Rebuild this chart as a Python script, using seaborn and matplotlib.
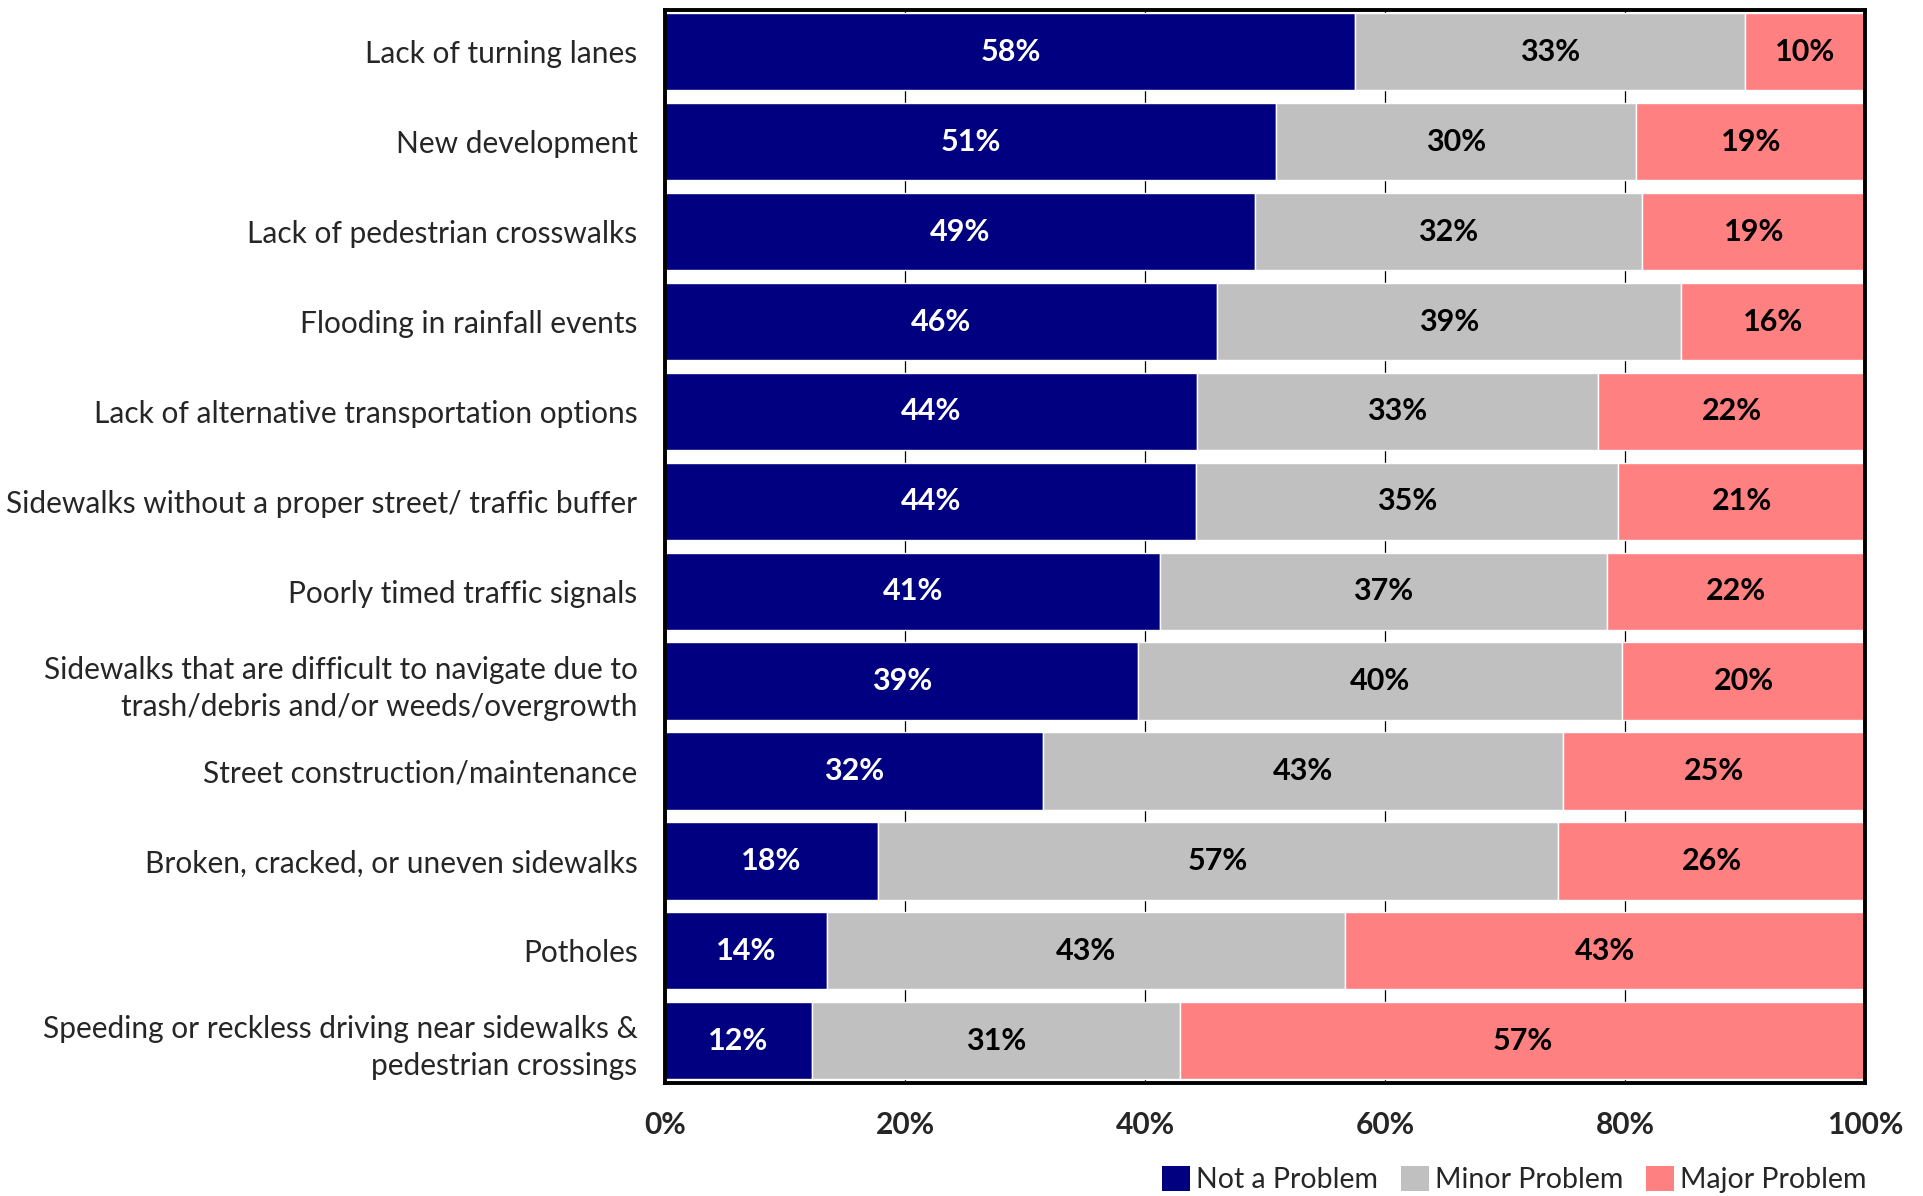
import matplotlib

matplotlib.use("Agg")
import matplotlib.pyplot as plt
from matplotlib.patches import Patch
import numpy as np
import seaborn as sns


CATEGORIES = [
    "Lack of turning lanes",
    "New development",
    "Lack of pedestrian crosswalks",
    "Flooding in rainfall events",
    "Lack of alternative transportation options",
    "Sidewalks without a proper street/ traffic buffer",
    "Poorly timed traffic signals",
    "Sidewalks that are difficult to navigate due to\ntrash/debris and/or weeds/overgrowth",
    "Street construction/maintenance",
    "Broken, cracked, or uneven sidewalks",
    "Potholes",
    "Speeding or reckless driving near sidewalks &\npedestrian crossings",
]
SERIES = ["Not a Problem", "Minor Problem", "Major Problem"]

# bar lengths (percent)
not_problem = [57.5, 50.9, 49.1, 46.0, 44.3, 44.2, 41.2, 39.4, 31.5, 17.7, 13.5, 12.2]
minor_problem = [32.5, 30.0, 32.3, 38.6, 33.4, 35.2, 37.3, 40.3, 43.3, 56.7, 43.1, 30.7]
major_problem = [10.0, 19.1, 18.6, 15.4, 22.3, 20.6, 21.5, 20.3, 25.2, 25.6, 43.4, 57.1]

# printed labels
not_labels = [58, 51, 49, 46, 44, 44, 41, 39, 32, 18, 14, 12]
minor_labels = [33, 30, 32, 39, 33, 35, 37, 40, 43, 57, 43, 31]
major_labels = [10, 19, 19, 16, 22, 21, 22, 20, 25, 26, 43, 57]

X_TICKS = [0, 20, 40, 60, 80, 100]
COLORS = ["#000080", "#C0C0C0", "#FF8080"]
TEXT_COLORS = ["white", "black", "black"]


def main() -> None:
    sns.set_theme(style="white")
    plt.rcParams["font.family"] = ["Lato", "DejaVu Sans"]

    fig = plt.figure(figsize=(19.23, 11.96), dpi=100)
    ax = fig.add_axes([0.346, 0.0945, 0.624, 0.8975])

    series = [not_problem, minor_problem, major_problem]
    labels = [not_labels, minor_labels, major_labels]
    lefts = np.zeros(len(CATEGORIES))
    for values, color in zip(series, COLORS):
        sns.barplot(x=values, y=CATEGORIES, orient="h", color=color,
                    saturation=1, width=0.86, ax=ax)
        container = ax.containers[-1]
        for patch, left in zip(container, lefts):
            patch.set_x(left)
        lefts = lefts + np.array(values)

    for container, lbls, tcolor in zip(ax.containers, labels, TEXT_COLORS):
        ax.bar_label(container, labels=[f"{v}%" for v in lbls], label_type="center",
                     color=tcolor, fontsize=22, fontweight="bold")

    ax.set_xlim(0, 100)
    ax.set_ylim(11.47, -0.47)
    ax.set_xticks(X_TICKS)
    ax.set_xticklabels([f"{t}%" for t in X_TICKS], fontsize=21.5, fontweight="bold")
    ax.tick_params(axis="x", length=0, pad=20)
    ax.tick_params(axis="y", length=0, pad=20, labelsize=21.5)
    for lbl in ax.get_yticklabels():
        lbl.set_linespacing(1.4)
    ax.set_xlabel("")
    ax.set_ylabel("")
    ax.grid(axis="x", color="black", linewidth=0.9)
    ax.grid(axis="y", visible=False)
    ax.set_axisbelow(True)
    for spine in ax.spines.values():
        spine.set_visible(True)
        spine.set_color("black")
        spine.set_linewidth(2.8)

    handles = [Patch(facecolor=c, edgecolor="none") for c in COLORS]
    fig.legend(handles, SERIES, loc="lower right", bbox_to_anchor=(0.984, -0.019),
               ncol=3, frameon=False, fontsize=20.5, handlelength=1.0, handleheight=1.0,
               handletextpad=0.2, columnspacing=0.8)

    fig.savefig("out.png", dpi=100)
    plt.close(fig)


if __name__ == "__main__":
    main()
